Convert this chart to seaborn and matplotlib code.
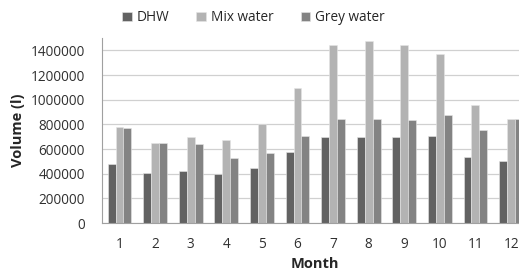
import pandas as pd
import seaborn as sns
import matplotlib.pyplot as plt
from matplotlib.ticker import FixedLocator

months = [1, 2, 3, 4, 5, 6, 7, 8, 9, 10, 11, 12]
dhw = [480000, 408000, 426000, 400000, 445000, 574000, 695000, 700000, 695000, 705000, 539000, 501000]
mix_water = [775000, 650000, 700000, 676000, 802000, 1092000, 1446000, 1475000, 1446000, 1368000, 955000, 842000]
grey_water = [770000, 650000, 641000, 531000, 566000, 703000, 845000, 845000, 834000, 874000, 756000, 842000]
series = ['DHW', 'Mix water', 'Grey water']
colors = ['#626262', '#b3b3b3', '#838383']
y_ticks = [0, 200000, 400000, 600000, 800000, 1000000, 1200000, 1400000]

df = pd.DataFrame({'Month': months, 'DHW': dhw, 'Mix water': mix_water, 'Grey water': grey_water})
long_df = df.melt(id_vars='Month', var_name='Series', value_name='Volume')

sns.set_style('white')
plt.rcParams['font.family'] = ['Open Sans', 'DejaVu Sans']

fig = plt.figure(figsize=(5.19, 2.72), dpi=100)
ax = fig.add_axes([0.196, 0.180, 0.823, 0.680])

sns.barplot(data=long_df, x='Month', y='Volume', hue='Series', hue_order=series,
            palette=colors, width=0.67, edgecolor='#e6e6e6', linewidth=0.4,
            saturation=1, ax=ax)

ax.set_ylim(0, 1500000)
ax.set_xlim(-0.5, 11.5)
ax.set_yticks(y_ticks)
ax.set_yticklabels([str(v) for v in y_ticks], fontsize=9.8, color='#303030')
ax.set_xticks(range(len(months)))
ax.set_xticklabels([str(m) for m in months], fontsize=9.8, color='#303030')
ax.xaxis.set_minor_locator(FixedLocator([i - 0.5 for i in range(len(months) + 1)]))
ax.tick_params(axis='x', which='major', length=0, pad=10)
ax.tick_params(axis='x', which='minor', length=4, color='#a0a0a0', width=0.8, direction='out')
ax.tick_params(axis='y', length=4, color='#a0a0a0', width=0.8, pad=8)
ax.yaxis.grid(True, color='#d0d0d0', linewidth=0.9)
ax.set_axisbelow(True)
for side in ['top', 'right']:
    ax.spines[side].set_visible(False)
for side in ['left', 'bottom']:
    ax.spines[side].set_color('#a0a0a0')
    ax.spines[side].set_linewidth(0.8)

ax.set_xlabel('Month', fontsize=10.5, fontweight='bold', labelpad=4)
ax.set_ylabel('Volume (l)', fontsize=10.5, fontweight='bold', labelpad=4)

ax.legend(loc='lower left', bbox_to_anchor=(0.035, 1.04), ncol=3, frameon=False,
          fontsize=9.8, handlelength=0.7, handleheight=0.7, handletextpad=0.35,
          columnspacing=2.0, borderaxespad=0)

fig.savefig('out.png', dpi=100)
